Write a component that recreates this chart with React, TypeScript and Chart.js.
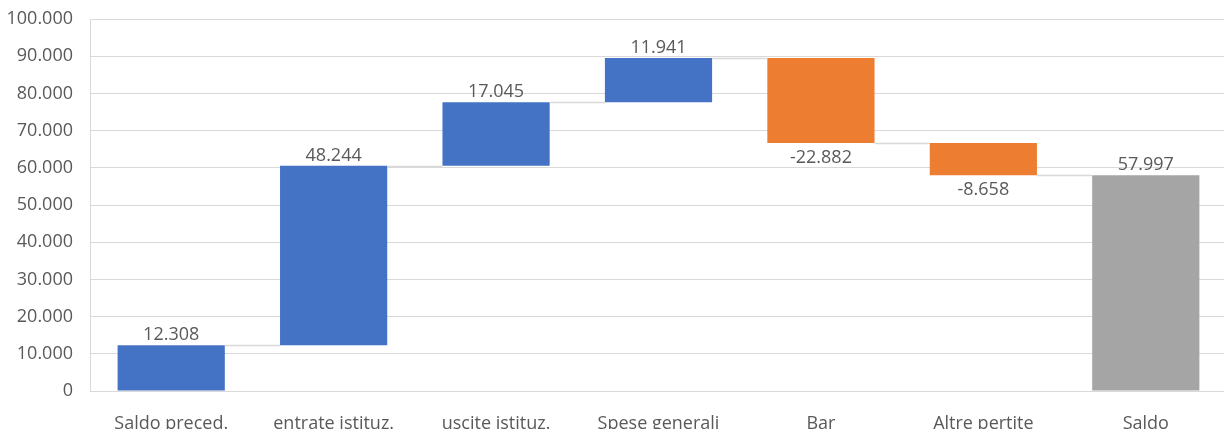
import React, { useEffect, useRef } from "react";
import { Chart, registerables } from "chart.js";

Chart.register(...registerables);

const categories = [
  "Saldo preced.",
  "entrate istituz.",
  "uscite istituz.",
  "Spese generali",
  "Bar",
  "Altre pertite",
  "Saldo",
];
const changes = [12308, 48244, 17045, 11941, -22882, -8658, 57997];
const isTotal = [false, false, false, false, false, false, true];
const yTicks = [0, 10000, 20000, 30000, 40000, 50000, 60000, 70000, 80000, 90000, 100000];

const BLUE = "#4472C4";
const ORANGE = "#ED7D31";
const GRAY = "#A5A5A5";
const TEXT = "#595959";
const GRID = "#D9D9D9";
const FONT = "'Open Sans', sans-serif";

function fmt(v: number): string {
  const neg = v < 0;
  const s = Math.abs(Math.round(v)).toString().replace(/\B(?=(\d{3})+(?!\d))/g, ".");
  return (neg ? "-" : "") + s;
}

export default function App() {
  const ref = useRef<HTMLCanvasElement>(null);
  useEffect(() => {
    if (!ref.current) return;
    let running = 0;
    const ranges: [number, number][] = [];
    const colors: string[] = [];
    changes.forEach((v, i) => {
      if (isTotal[i]) {
        ranges.push([0, v]);
        running = v;
        colors.push(GRAY);
      } else {
        ranges.push([running, running + v]);
        running += v;
        colors.push(v >= 0 ? BLUE : ORANGE);
      }
    });

    const wfPlugin = {
      id: "wf",
      afterDatasetsDraw(chart: any) {
        const ctx = chart.ctx;
        const meta = chart.getDatasetMeta(0);
        const y = chart.scales.y;
        ctx.save();
        ctx.strokeStyle = GRID;
        ctx.lineWidth = 1.5;
        for (let i = 0; i < meta.data.length - 1; i++) {
          const a = meta.data[i];
          const b = meta.data[i + 1];
          const yy = Math.round(y.getPixelForValue(ranges[i][1])) + 0.5;
          ctx.beginPath();
          ctx.moveTo(a.x + a.width / 2, yy);
          ctx.lineTo(b.x - b.width / 2, yy);
          ctx.stroke();
        }
        ctx.fillStyle = TEXT;
        ctx.font = `18px ${FONT}`;
        ctx.textAlign = "center";
        ctx.textBaseline = "alphabetic";
        meta.data.forEach((bar: any, i: number) => {
          const v = changes[i];
          const [s, e] = ranges[i];
          if (v >= 0) {
            const top = y.getPixelForValue(Math.max(s, e));
            ctx.fillText(fmt(v), bar.x, top - 5);
          } else {
            const bottom = y.getPixelForValue(Math.min(s, e));
            ctx.fillText(fmt(v), bar.x, bottom + 20);
          }
        });
        ctx.restore();
      },
    };

    const chart = new Chart(ref.current, {
      type: "bar",
      data: {
        labels: categories,
        datasets: [
          {
            data: ranges as any,
            backgroundColor: colors,
            borderWidth: 0,
            barPercentage: 0.66,
            categoryPercentage: 1,
          },
        ],
      },
      options: {
        animation: false,
        responsive: false,
        maintainAspectRatio: false,
        layout: { padding: { top: 19, right: 3, left: 0, bottom: 0 } },
        plugins: { legend: { display: false }, tooltip: { enabled: false } },
        scales: {
          x: {
            grid: { display: false, drawTicks: false },
            border: { display: false },
            ticks: {
              color: TEXT,
              font: { family: FONT, size: 18 },
              padding: 22,
              maxRotation: 0,
              autoSkip: false,
            },
            afterFit: (axis: any) => {
              axis.height = 38;
              axis.paddingLeft = 0;
              axis.paddingRight = 0;
            },
          },
          y: {
            min: 0,
            max: 100000,
            afterBuildTicks: (axis: any) => {
              axis.ticks = yTicks.map((v) => ({ value: v }));
            },
            grid: { color: GRID, lineWidth: 1, drawTicks: false },
            border: { display: true, color: GRID, width: 1 },
            ticks: {
              color: TEXT,
              font: { family: FONT, size: 18 },
              padding: 17,
              callback: (v: any) => fmt(Number(v)),
            },
            afterFit: (axis: any) => {
              axis.width = 90;
              axis.paddingTop = 0;
              axis.paddingBottom = 0;
            },
          },
        },
      },
      plugins: [wfPlugin],
    });
    return () => chart.destroy();
  }, []);

  return (
    <div
      style={{
        position: "fixed",
        left: 0,
        top: 0,
        width: 1224,
        height: 429,
        overflow: "hidden",
        background: "#fff",
      }}
    >
      <canvas ref={ref} width={1230} height={429} style={{ display: "block" }} />
    </div>
  );
}
